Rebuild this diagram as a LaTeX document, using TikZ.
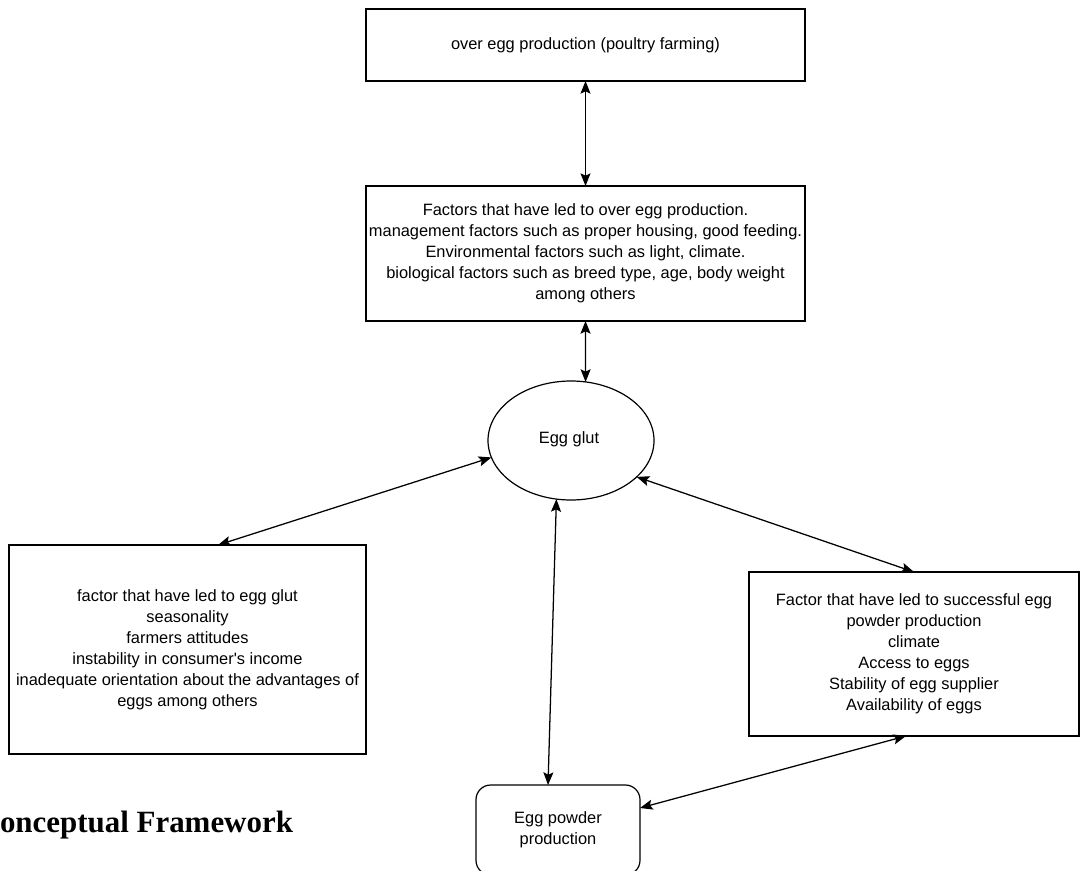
\documentclass[tikz,border=0pt]{standalone}
\usepackage{fontspec}
\setmainfont{Liberation Sans}
\newfontfamily\arialfont{Liberation Sans}
\newfontfamily\titlefont{Liberation Serif}
\usetikzlibrary{shapes.geometric,arrows.meta}
\begin{document}
\begin{tikzpicture}[x=0.75pt,y=-0.75pt,
  every node/.style={inner sep=0pt,outer sep=0pt},
  txt/.style={font=\arialfont\fontsize{12.3pt}{15.75pt}\selectfont,align=center},
  box/.style={draw,line width=0.9pt,txt},
  conn/.style={line width=0.95pt,{Stealth[length=9.5pt,width=7.5pt,inset=1.8pt]}-{Stealth[length=9.5pt,width=7.5pt,inset=1.8pt]}}]
\useasboundingbox (0,0) rectangle (1080,870);
\clip (0,0) rectangle (1080,870);
\fill[white] (0,0) rectangle (1080,870);
\node[box,minimum width=329.25pt,minimum height=54pt] (top) at (585.5,45) {over egg production (poultry farming)};
\node[box,minimum width=329.25pt,minimum height=101.25pt] (fac) at (585.5,253.5) {Factors that have led to over egg production.\\management factors such as proper housing, good feeding.\\Environmental factors such as light, climate.\\biological factors such as breed type, age, body weight\\among others};
\node[draw,line width=0.9pt,ellipse,txt,minimum width=124.5pt,minimum height=89.25pt] (glut) at (571,440.5) {};
\node[txt] (gluttxt) at (569,439) {Egg glut};
\node[box,minimum width=267.75pt,minimum height=156.75pt] (left) at (187.5,649.5) {factor that have led to egg glut\\seasonality\\farmers attitudes\\instability in consumer's income\\inadequate orientation about the advantages of\\eggs among others};
\node[box,minimum width=247.5pt,minimum height=123pt] (right) at (914,654) {Factor that have led to successful egg\\powder production\\climate\\Access to eggs\\Stability of egg supplier\\Availability of eggs};
\node[box,rounded corners=11pt,minimum width=123pt,minimum height=67.5pt] (egg) at (558,830) {Egg powder\\production};
\node[anchor=base west,font=\titlefont\bfseries\fontsize{23.2pt}{27pt}\selectfont] (title) at (0,832) {onceptual Framework};
\draw[conn] (top) -- (fac);
\draw[conn] (fac.south) -- (glut.76.8);
\draw[conn] (glut.192) -- ([xshift=22.9pt]left.north);
\draw[conn] (glut.331.5) -- (right.north);
\draw[conn] (glut.256) -- ([xshift=-7.5pt]egg.north);
\draw[conn] ([yshift=16.5pt]egg.east) -- ([xshift=-6pt]right.south);
\end{tikzpicture}
\end{document}
